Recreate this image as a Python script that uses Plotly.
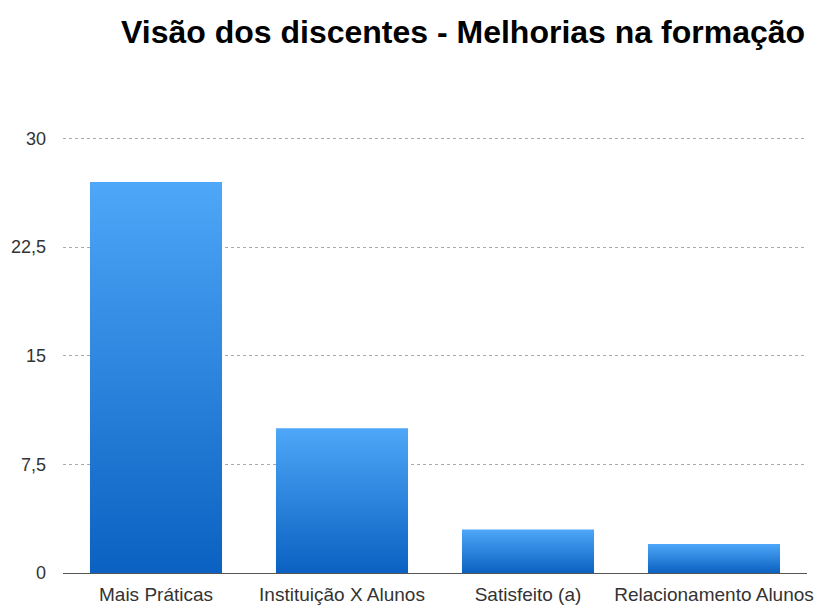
import plotly.graph_objects as go

categories = ["Mais Práticas", "Instituição X Alunos", "Satisfeito (a)", "Relacionamento Alunos"]
values = [27, 10, 3, 2]
y_ticks = [0, 7.5, 15, 22.5, 30]
title_text = "Visão dos discentes - Melhorias na formação"

half_w = 0.355
fig = go.Figure()
for i, v in enumerate(values):
    fig.add_trace(go.Scatter(
        x=[i - half_w, i - half_w, i + half_w, i + half_w, i - half_w],
        y=[0, v, v, 0, 0],
        mode="lines",
        line=dict(width=0),
        fill="toself",
        fillgradient=dict(
            type="vertical",
            colorscale=[[0, "#0b61c1"], [1, "#4ea7f8"]],
        ),
        hoverinfo="text",
        text=f"{categories[i]}: {v}",
        showlegend=False,
    ))

# page body has an 8px margin, so the figure is sized to fit inside the window
fig.update_layout(
    width=814, height=598,
    margin=dict(l=55, r=15, t=129, b=33, autoexpand=False),
    paper_bgcolor="white", plot_bgcolor="white",
    separators=",.",
    title=dict(text=f"<b>{title_text}</b>", x=0.559, xref="container", xanchor="center",
               y=0.96, yref="container", yanchor="middle",
               font=dict(family="Liberation Sans, Arial, sans-serif", size=32, color="#000")),
    font=dict(family="Liberation Sans, Arial, sans-serif", color="#333"),
)
fig.update_xaxes(
    range=[-0.5, len(categories) - 0.5], automargin=False,
    tickvals=list(range(len(categories))), ticktext=categories,
    showgrid=False, zeroline=False, showline=True, linecolor="#555", linewidth=1,
    ticks="", tickfont=dict(size=19, color="#333"), ticklabelstandoff=4,
)
fig.update_yaxes(
    range=[0, 30.1], tickvals=y_ticks, automargin=False,
    showgrid=True, gridcolor="#aaa", griddash="dot", gridwidth=1,
    zeroline=False, showline=False, ticks="",
    tickfont=dict(size=18, color="#333"), ticklabelstandoff=16,
)
fig.write_html("out.html")
